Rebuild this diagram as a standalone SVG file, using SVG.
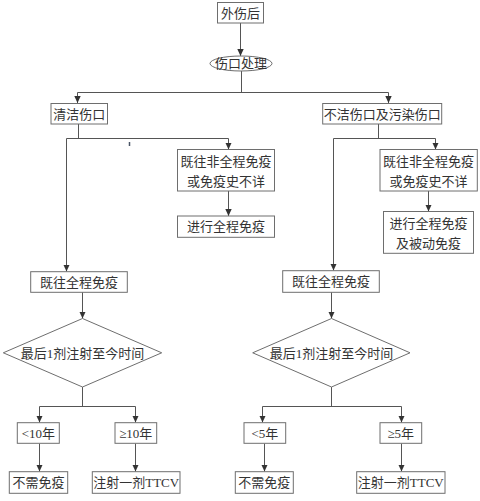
<svg xmlns="http://www.w3.org/2000/svg" width="480" height="501" viewBox="0 0 480 501">
<defs>
<marker id="ah" markerUnits="userSpaceOnUse" markerWidth="8" markerHeight="8" viewBox="0 0 8 8" refX="7" refY="4" orient="auto">
<path d="M0,0.8 L7,4 L0,7.2 Z" fill="#333"/>
</marker>
<style>
.b{fill:#fff;stroke:#6e6e6e;stroke-width:1}
.t{font-family:"Liberation Serif","Noto Sans CJK SC",serif;font-size:13px;fill:#333;text-anchor:middle}
.c{fill:none;stroke:#555;stroke-width:1}
.a{marker-end:url(#ah)}
</style>
</defs>
<rect width="480" height="501" fill="#fff"/>
<g id="connectors">
<path class="c a" d="M240.5,23 V56"/>
<path class="c" d="M241.5,71 V92.5 M77.5,92.5 H388.5"/>
<path class="c a" d="M77.5,92.5 V103"/>
<path class="c a" d="M388.5,92.5 V103"/>
<path class="c" d="M78.5,124 V138.5 M66.5,138.5 H228.5"/>
<path class="c a" d="M66.5,138.5 V271.5"/>
<path class="c a" d="M228.5,138.5 V149.5"/>
<path class="c a" d="M228.5,191 V216"/>
<path class="c" d="M378.5,124 V138.5 M333.5,138.5 H435.5"/>
<path class="c a" d="M333.5,138.5 V270.5"/>
<path class="c a" d="M435.5,138.5 V149.5"/>
<path class="c a" d="M428.5,191 V211.5"/>
<path class="c a" d="M82.5,292 V318.5"/>
<path class="c a" d="M331.5,292 V318.5"/>
<path class="c" d="M82.5,387 V406.5 M39.5,406.5 H135.5"/>
<path class="c a" d="M39.5,406.5 V422.5"/>
<path class="c a" d="M135.5,406.5 V422.5"/>
<path class="c a" d="M39.5,443.5 V471.5"/>
<path class="c a" d="M135.5,443.5 V471.5"/>
<path class="c" d="M331.5,387 V406.5 M262.5,406.5 H401.5"/>
<path class="c a" d="M262.5,406.5 V422.5"/>
<path class="c a" d="M401.5,406.5 V422.5"/>
<path class="c a" d="M264.5,443.5 V471.5"/>
<path class="c a" d="M401.5,443.5 V471.5"/>
<path d="M129.5,142 V146" stroke="#4a5566" stroke-width="1.5"/>
</g>
<g id="n_waishanghou"><rect class="b" x="217.5" y="2.5" width="46" height="20.5"/><text class="t" x="240.5" y="17.5">外伤后</text></g>
<g id="n_shangkouchuli"><ellipse class="b" cx="241" cy="63.5" rx="31" ry="7.5"/><text class="t" x="241" y="68">伤口处理</text></g>
<g id="n_qingjie"><rect class="b" x="51" y="103.5" width="56.5" height="20.5"/><text class="t" x="79.2" y="118.5">清洁伤口</text></g>
<g id="n_bujie"><rect class="b" x="322.7" y="103.5" width="119" height="20.5"/><text class="t" x="382.2" y="118.5">不洁伤口及污染伤口</text></g>
<g id="n_feiquan_l"><rect class="b" x="177.5" y="149.5" width="97" height="41.5"/><text class="t" x="226" y="166">既往非全程免疫</text><text class="t" x="226" y="186">或免疫史不详</text></g>
<g id="n_jinxing_l"><rect class="b" x="177.5" y="216" width="97" height="21.3"/><text class="t" x="226" y="231.2">进行全程免疫</text></g>
<g id="n_feiquan_r"><rect class="b" x="380" y="149.5" width="97.3" height="41.5"/><text class="t" x="428.6" y="166">既往非全程免疫</text><text class="t" x="428.6" y="186">或免疫史不详</text></g>
<g id="n_jinxing_r"><rect class="b" x="383.5" y="211.5" width="90" height="41.8"/><text class="t" x="428.5" y="227.5">进行全程免疫</text><text class="t" x="428.5" y="248">及被动免疫</text></g>
<g id="n_quancheng_l"><rect class="b" x="30.7" y="271.7" width="96.6" height="20.6"/><text class="t" x="79" y="286.5">既往全程免疫</text></g>
<g id="n_quancheng_r"><rect class="b" x="282.7" y="270.7" width="96.6" height="21.6"/><text class="t" x="331" y="286">既往全程免疫</text></g>
<g id="n_diamond_l"><polygon class="b" points="82.5,318.5 161.7,352.8 82.5,387 3.3,352.8"/><text class="t" x="82.5" y="357.5">最后1剂注射至今时间</text></g>
<g id="n_diamond_r"><polygon class="b" points="331.5,318.5 410,352.8 331.5,387 252.7,352.8"/><text class="t" x="331.5" y="357.5">最后1剂注射至今时间</text></g>
<g id="n_lt10"><rect class="b" x="17.3" y="422.7" width="42" height="20.6"/><text class="t" x="38.3" y="437.5">&lt;10年</text></g>
<g id="n_ge10"><rect class="b" x="115" y="422.7" width="41.7" height="20.6"/><text class="t" x="135.8" y="437.5">≥10年</text></g>
<g id="n_buxu_l"><rect class="b" x="9.3" y="471.7" width="58.4" height="21.6"/><text class="t" x="38.5" y="487">不需免疫</text></g>
<g id="n_ttcv_l"><rect class="b" x="92.3" y="471.7" width="87.7" height="21.6"/><text class="t" x="136.2" y="487">注射一剂TTCV</text></g>
<g id="n_lt5"><rect class="b" x="244" y="422.7" width="41.7" height="20.6"/><text class="t" x="264.8" y="437.5">&lt;5年</text></g>
<g id="n_ge5"><rect class="b" x="380" y="422.7" width="41.7" height="20.6"/><text class="t" x="400.8" y="437.5">≥5年</text></g>
<g id="n_buxu_r"><rect class="b" x="235.3" y="471.7" width="58" height="21.6"/><text class="t" x="264.3" y="487">不需免疫</text></g>
<g id="n_ttcv_r"><rect class="b" x="356.7" y="471.7" width="88.3" height="21.6"/><text class="t" x="400.8" y="487">注射一剂TTCV</text></g>
</svg>
